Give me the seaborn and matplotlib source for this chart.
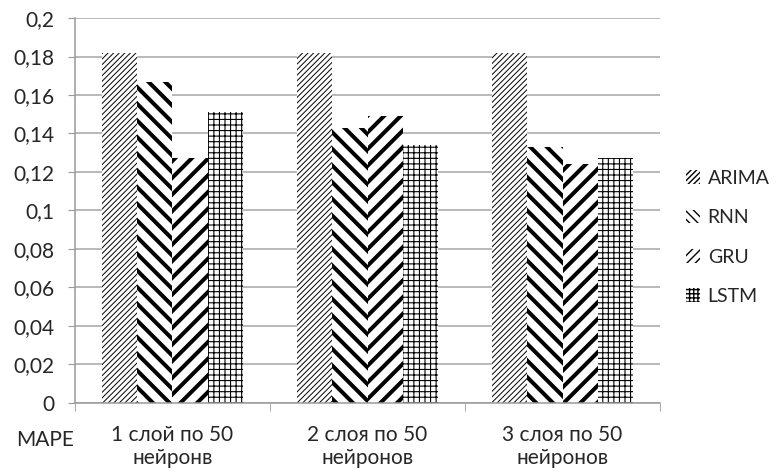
import numpy as np
import pandas as pd
import matplotlib.pyplot as plt
import seaborn as sns
from matplotlib.patches import Patch

# значення MAPE
categories = ["1 слой по 50\nнейронв", "2 слоя по 50\nнейронов", "3 слоя по 50\nнейронов"]
models = ["ARIMA", "RNN", "GRU", "LSTM"]
arima = [0.182, 0.182, 0.182]
rnn = [0.167, 0.143, 0.133]
gru = [0.127, 0.149, 0.124]
lstm = [0.151, 0.134, 0.127]
y_ticks = [0, 0.02, 0.04, 0.06, 0.08, 0.1, 0.12, 0.14, 0.16, 0.18, 0.2]
y_labels = ["0", "0,02", "0,04", "0,06", "0,08", "0,1", "0,12", "0,14", "0,16", "0,18", "0,2"]

df = pd.DataFrame({"cat": categories * 4,
                   "model": np.repeat(models, 3),
                   "mape": arima + rnn + gru + lstm})

sns.set_style("white")
plt.rcParams['font.family'] = ['Lato', 'DejaVu Sans']
fsize = 15
hatches = {"ARIMA": "//////", "RNN": "\\\\", "GRU": "//", "LSTM": "+++"}
hlw = {"ARIMA": 0.7, "RNN": 2.9, "GRU": 2.9, "LSTM": 0.8}
# у легенді значки дрібні, тож штрихування щільніше
leg_hatches = {"ARIMA": "//////", "RNN": "\\\\\\\\", "GRU": "////", "LSTM": "++++"}
leg_hlw = {"ARIMA": 0.6, "RNN": 1.6, "GRU": 1.6, "LSTM": 0.7}

fig = plt.figure(figsize=(7.77, 4.74), dpi=100)
ax = fig.add_axes([0.0965, 0.15, 0.753, 0.812])
sns.barplot(data=df, x="cat", y="mape", hue="model", hue_order=models,
            order=categories, width=0.72, gap=0,
            palette=["white"] * 4, edgecolor="black", linewidth=0,
            legend=False, ax=ax)

for cont, m in zip(ax.containers, models):
    for bar in cont:
        bar.set_hatch(hatches[m])
        bar.set_edgecolor("black")
        bar.set_linewidth(0)
        if hasattr(bar, "set_hatch_linewidth"):
            bar.set_hatch_linewidth(hlw[m])

ax.set_ylim(0, 0.2)
ax.set_xlim(-0.5, 2.5)
ax.set_yticks(y_ticks)
ax.set_yticklabels(y_labels, fontsize=fsize)
ax.set_xticks([0, 1, 2])
ax.set_xticklabels(categories, fontsize=fsize)
ax.set_xticks([-0.5, 0.5, 1.5, 2.5], minor=True)
ax.tick_params(axis="x", which="major", length=0, pad=16)
ax.tick_params(axis="x", which="minor", length=6, color="#9a9a9a", direction="out", bottom=True)
ax.tick_params(axis="y", length=5, color="#9a9a9a", direction="out", left=True, pad=10)
ax.set_xlabel("")
ax.set_ylabel("")
ax.yaxis.grid(True, color="#a6a6a6", linewidth=1.1)
ax.set_axisbelow(True)
for s in ["top", "right"]:
    ax.spines[s].set_visible(False)
for s in ["left", "bottom"]:
    ax.spines[s].set_color("#9a9a9a")
    ax.spines[s].set_linewidth(1.1)

handles = []
for m in models:
    p = Patch(facecolor="white", edgecolor="black", hatch=leg_hatches[m], linewidth=0)
    if hasattr(p, "set_hatch_linewidth"):
        p.set_hatch_linewidth(leg_hlw[m])
    handles.append(p)
ax.legend(handles, models, loc="center left", bbox_to_anchor=(1.015, 0.43),
          frameon=False, fontsize=14, handlelength=0.7, handleheight=0.7,
          handletextpad=0.4, labelspacing=1.15)

fig.text(45 / 777, 1 - 440 / 474, "MAPE", fontsize=fsize, ha="center", va="center")

fig.savefig("out.png", dpi=100)
